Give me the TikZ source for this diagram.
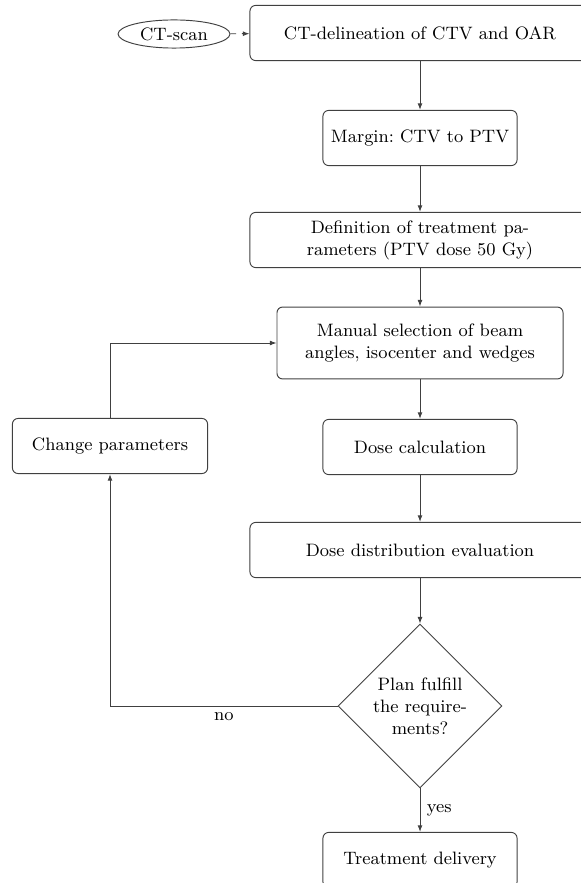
\documentclass[tikz,border=0pt]{standalone}
\usepackage{amsmath}
\usepackage{xcolor}
\usepackage{tikz}
\usetikzlibrary{positioning,calc,arrows.meta,shapes.geometric}

\begin{document}
\begin{tikzpicture}[
						x=0.0185cm, y=-0.0185cm,
						every node/.style={font=\fontsize{9.45}{11.6}\selectfont},
						box/.style={draw=black!75, line width=0.5pt, rounded corners=3pt, align=center, minimum height=1.02cm},
						wide/.style={box, minimum width=6.29cm},
						narrow/.style={box, minimum width=3.59cm},
						decide/.style={draw=black!75, line width=0.5pt, diamond, aspect=1, align=center, minimum size=3.03cm, inner sep=0pt},
						flow/.style={-{Latex[length=3.5pt,width=2.6pt]}, draw=black!75, line width=0.5pt}
						]
						\useasboundingbox (0,0) rectangle (580,883);
						
						% Hauptkette der Planung
						\node[ellipse, draw=black!75, line width=0.5pt, minimum width=2.07cm, minimum height=0.52cm, inner sep=1pt] (scan) at (174,34) {CT-scan};
						\node[wide] (delin) at (420,33) {CT-delineation of CTV and OAR};
						\node[narrow] (margin) at (420,138) {Margin:\ CTV to PTV};
						\node[wide] (param) at (420,240) {Definition of treatment pa-\\rameters (PTV dose 50 Gy)};
						\node[box, minimum width=5.29cm, minimum height=1.33cm] (beam) at (420,343) {Manual selection of beam\\angles, isocenter and wedges};
						\node[narrow] (calc) at (420,447) {Dose calculation};
						\node[wide] (eval) at (420,550) {Dose distribution evaluation};
						\node[decide] (check) at (420,706) {Plan fulfill\\the require-\\ments?};
						\node[narrow] (deliv) at (420,860) {Treatment delivery};
						
						% Rueckkopplung
						\node[box, minimum width=3.61cm] (change) at (110,446) {Change parameters};
						
						% Verbindungen
						\draw[flow, dashed] (scan) -- (delin);
						\draw[flow] (delin) -- (margin);
						\draw[flow] (margin) -- (param);
						\draw[flow] (param) -- (beam);
						\draw[flow] (beam) -- (calc);
						\draw[flow] (calc) -- (eval);
						\draw[flow] (eval) -- (check);
						\draw[flow] (check) -- node[right] {yes} (deliv);
						\draw[flow] (check.west) -| node[pos=0.25, below] {no} (change.south);
						\draw[flow] (change.north) |- (beam.west);
					\end{tikzpicture}
\end{document}
